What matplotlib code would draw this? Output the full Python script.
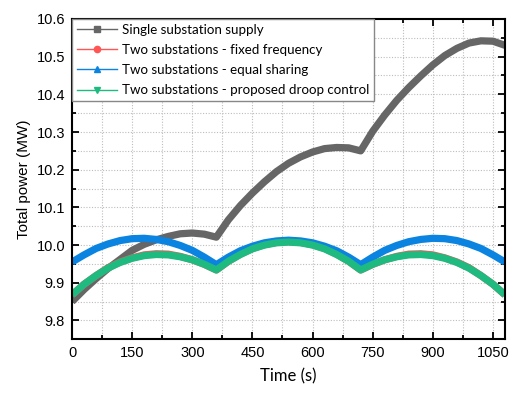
import matplotlib

matplotlib.use("Agg")
import matplotlib.pyplot as plt
from matplotlib.lines import Line2D
from matplotlib.ticker import FormatStrFormatter, MultipleLocator

plt.rcParams["font.family"] = ["Liberation Sans", "DejaVu Sans"]

time_s = list(range(0, 1081, 30))

single_supply = [
    9.850, 9.882, 9.911, 9.938, 9.962, 9.986, 10.002, 10.014, 10.023, 10.030, 10.032, 10.029, 10.021,
    10.067, 10.105, 10.138, 10.168, 10.195, 10.217, 10.234, 10.247, 10.256, 10.259, 10.258, 10.250,
    10.302, 10.345, 10.384, 10.418, 10.449, 10.478, 10.503, 10.522, 10.536, 10.542, 10.541, 10.530,
]
fixed_freq = [
    9.868, 9.896, 9.919, 9.940, 9.955, 9.966, 9.974, 9.977, 9.976, 9.970, 9.961, 9.949, 9.934,
    9.957, 9.976, 9.991, 10.001, 10.007, 10.009, 10.007, 10.001, 9.991, 9.976, 9.957, 9.934,
    9.949, 9.961, 9.970, 9.976, 9.977, 9.974, 9.966, 9.955, 9.940, 9.919, 9.896, 9.868,
]
equal_sharing = [
    9.955, 9.974, 9.991, 10.003, 10.012, 10.017, 10.018, 10.015, 10.009, 9.999, 9.986, 9.968, 9.948,
    9.968, 9.985, 9.997, 10.006, 10.011, 10.013, 10.011, 10.006, 9.997, 9.985, 9.968, 9.948,
    9.968, 9.986, 9.999, 10.009, 10.015, 10.018, 10.017, 10.012, 10.003, 9.991, 9.974, 9.955,
]
droop_control = [
    9.868, 9.896, 9.919, 9.939, 9.954, 9.965, 9.972, 9.975, 9.974, 9.969, 9.961, 9.949, 9.934,
    9.957, 9.975, 9.990, 10.000, 10.006, 10.008, 10.006, 10.000, 9.990, 9.975, 9.957, 9.934,
    9.949, 9.961, 9.969, 9.974, 9.975, 9.972, 9.965, 9.954, 9.939, 9.919, 9.896, 9.868,
]

labels = [
    "Single substation supply",
    "Two substations - fixed frequency",
    "Two substations - equal sharing",
    "Two substations - proposed droop control",
]
colors = ["#666666", "#ff5555", "#0a84e0", "#1fba80"]
markers = ["s", "o", "^", "v"]
series = [single_supply, fixed_freq, equal_sharing, droop_control]

fig = plt.figure(figsize=(5.17, 3.95), dpi=100)
ax = fig.add_axes([0.1393, 0.141, 0.8375, 0.811])

for values, color in zip(series, colors):
    ax.plot(time_s, values, color=color, linewidth=5.2, solid_capstyle="butt")

ax.set_xlim(0, 1080)
ax.set_ylim(9.75, 10.6)
ax.xaxis.set_major_locator(MultipleLocator(150))
ax.xaxis.set_minor_locator(MultipleLocator(75))
ax.yaxis.set_major_locator(MultipleLocator(0.1))
ax.yaxis.set_minor_locator(MultipleLocator(0.05))
ax.yaxis.set_major_formatter(FormatStrFormatter("%.1f"))
ax.grid(True, which="both", linestyle=(0, (1, 1.5)), color="#bdbdbd", linewidth=0.8)
ax.set_axisbelow(True)

ax.tick_params(which="both", direction="in", top=True, right=True, width=1.3,
               labelsize=10.5, pad=5)
ax.tick_params(which="major", length=5)
ax.tick_params(which="minor", length=3)
for sp in ax.spines.values():
    sp.set_linewidth(1.5)

ax.set_xlabel("Time (s)", fontsize=12, fontfamily="Lato", labelpad=6)
ax.set_ylabel("Total power (MW)", fontsize=11, labelpad=4)

handles = [
    Line2D([0], [0], color=c, linewidth=1.0, marker=m, markersize=4.5,
           markerfacecolor=c, markeredgecolor=c)
    for c, m in zip(colors, markers)
]
ax.legend(handles, labels, loc="upper left", bbox_to_anchor=(0, 1), borderaxespad=0,
          prop={"family": "Lato", "size": 9.6}, frameon=True, fancybox=False,
          edgecolor="#888888", framealpha=1, handlelength=3.0, handletextpad=0.4,
          labelspacing=0.62, borderpad=0.35)

fig.savefig("out.png", dpi=100)
